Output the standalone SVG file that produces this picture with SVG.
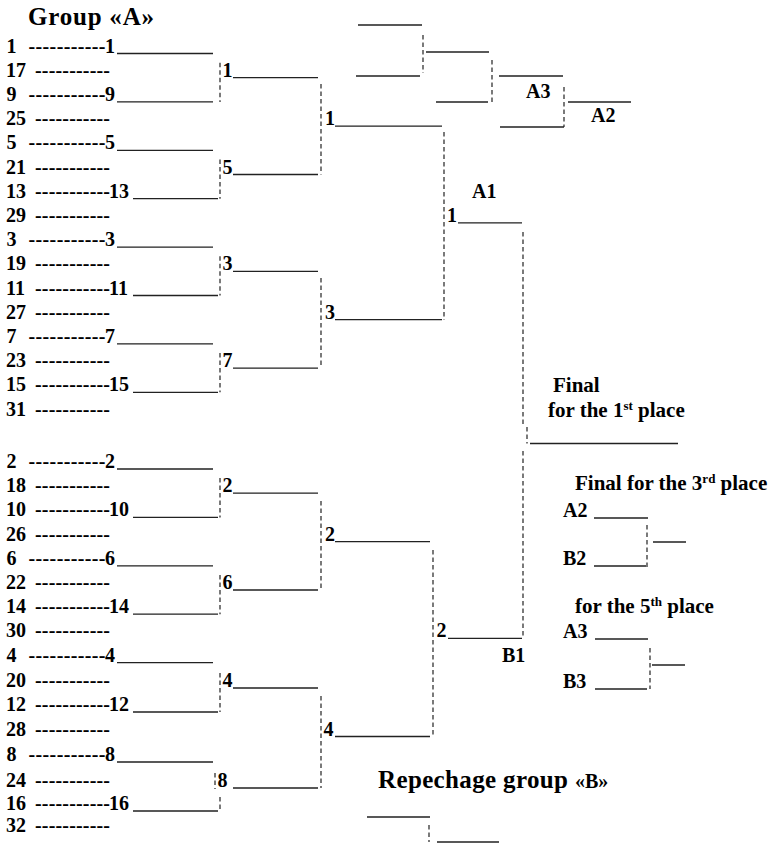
<svg xmlns="http://www.w3.org/2000/svg" width="773" height="845" viewBox="0 0 773 845">
<style>
text{font-family:"Liberation Serif","Times New Roman",serif;font-weight:bold;font-size:20px;fill:#000}
.t{font-size:25px}
.lb{font-size:21px}
.sup{font-size:13px}
.h{stroke:#222;stroke-width:1.3;fill:none}
.v{stroke:#222;stroke-width:1.2;stroke-dasharray:4.5 3;fill:none}
</style>
<defs>
<text id="d1" x="28.5" textLength="77" lengthAdjust="spacing">-----------</text>
<text id="d2" x="35" textLength="75" lengthAdjust="spacing">-----------</text>
</defs>
<rect width="773" height="845" fill="#fff"/>

<g id="titleA"><text class="t" x="28" y="25" textLength="126" lengthAdjust="spacing">Group «A»</text></g>
<g id="titleB"><text class="t" x="378" y="788" textLength="190" lengthAdjust="spacing">Repechage group</text><text x="575" y="788" font-size="18">«B»</text></g>

<g id="entries-top">
<g id="e1"><text x="6.5" y="52.5">1</text><use href="#d1" y="52.5"/><text x="105" y="52.5">1</text></g>
<g id="e17"><text x="6" y="76.7">17</text><use href="#d2" y="76.7"/></g>
<g id="e9"><text x="6.5" y="100.9">9</text><use href="#d1" y="100.9"/><text x="105" y="100.9">9</text></g>
<g id="e25"><text x="6" y="125.1">25</text><use href="#d2" y="125.1"/></g>
<g id="e5"><text x="6.5" y="149.3">5</text><use href="#d1" y="149.3"/><text x="105" y="149.3">5</text></g>
<g id="e21"><text x="6" y="173.5">21</text><use href="#d2" y="173.5"/></g>
<g id="e13"><text x="6" y="197.7">13</text><use href="#d2" y="197.7"/><text x="109" y="197.7">13</text></g>
<g id="e29"><text x="6" y="221.9">29</text><use href="#d2" y="221.9"/></g>
<g id="e3"><text x="6.5" y="246.1">3</text><use href="#d1" y="246.1"/><text x="105" y="246.1">3</text></g>
<g id="e19"><text x="6" y="270.3">19</text><use href="#d2" y="270.3"/></g>
<g id="e11"><text x="6" y="294.5">11</text><use href="#d2" y="294.5"/><text x="109" y="294.5">11</text></g>
<g id="e27"><text x="6" y="318.7">27</text><use href="#d2" y="318.7"/></g>
<g id="e7"><text x="6.5" y="342.9">7</text><use href="#d1" y="342.9"/><text x="105" y="342.9">7</text></g>
<g id="e23"><text x="6" y="367.1">23</text><use href="#d2" y="367.1"/></g>
<g id="e15"><text x="6" y="391.3">15</text><use href="#d2" y="391.3"/><text x="109" y="391.3">15</text></g>
<g id="e31"><text x="6" y="415.5">31</text><use href="#d2" y="415.5"/></g>
</g>

<g id="entries-bottom">
<g id="e2"><text x="6.5" y="468">2</text><use href="#d1" y="468"/><text x="105" y="468">2</text></g>
<g id="e18"><text x="6" y="492.2">18</text><use href="#d2" y="492.2"/></g>
<g id="e10"><text x="6" y="516.4">10</text><use href="#d2" y="516.4"/><text x="109" y="516.4">10</text></g>
<g id="e26"><text x="6" y="540.6">26</text><use href="#d2" y="540.6"/></g>
<g id="e6"><text x="6.5" y="564.8">6</text><use href="#d1" y="564.8"/><text x="105" y="564.8">6</text></g>
<g id="e22"><text x="6" y="589">22</text><use href="#d2" y="589"/></g>
<g id="e14"><text x="6" y="613.2">14</text><use href="#d2" y="613.2"/><text x="109" y="613.2">14</text></g>
<g id="e30"><text x="6" y="637.4">30</text><use href="#d2" y="637.4"/></g>
<g id="e4"><text x="6.5" y="661.6">4</text><use href="#d1" y="661.6"/><text x="105" y="661.6">4</text></g>
<g id="e20"><text x="6" y="687">20</text><use href="#d2" y="687"/></g>
<g id="e12"><text x="6" y="711">12</text><use href="#d2" y="711"/><text x="109" y="711">12</text></g>
<g id="e28"><text x="6" y="735.5">28</text><use href="#d2" y="735.5"/></g>
<g id="e8"><text x="6.5" y="761">8</text><use href="#d1" y="761"/><text x="105" y="761">8</text></g>
<g id="e24"><text x="6" y="787">24</text><use href="#d2" y="787"/></g>
<g id="e16"><text x="6" y="810">16</text><use href="#d2" y="810"/><text x="109" y="810">16</text></g>
<g id="e32"><text x="6" y="832">32</text><use href="#d2" y="832"/></g>
</g>

<g id="round2">
<text x="222.5" y="76.7">1</text>
<text x="222.5" y="173.5">5</text>
<text x="222.5" y="270.3">3</text>
<text x="222.5" y="367.1">7</text>
<text x="222.5" y="492.2">2</text>
<text x="222.5" y="589">6</text>
<text x="222.5" y="687">4</text>
<text x="217.5" y="787">8</text>
</g>
<g id="round3">
<text x="325" y="125.1">1</text>
<text x="325" y="318.7">3</text>
<text x="325" y="540.6">2</text>
<text x="323.5" y="735.5">4</text>
</g>
<g id="round4">
<text x="472" y="197.7">A1</text>
<text x="447" y="221.9">1</text>
<text x="436.5" y="637.4">2</text>
<text x="502" y="662">B1</text>
</g>
<g id="final1">
<text class="lb" x="553" y="392">Final</text>
<text class="lb" x="548" y="417">for the 1<tspan class="sup" dy="-7">st</tspan><tspan dy="7"> place</tspan></text>
</g>
<g id="final3">
<text class="lb" x="575" y="490">Final for the 3<tspan class="sup" dy="-7">rd</tspan><tspan dy="7"> place</tspan></text>
<text x="563" y="517">A2</text>
<text x="563" y="565">B2</text>
</g>
<g id="final5">
<text class="lb" x="575" y="613">for the 5<tspan class="sup" dy="-7">th</tspan><tspan dy="7"> place</tspan></text>
<text x="563" y="638">A3</text>
<text x="563" y="688">B3</text>
</g>
<g id="repechageA">
<text x="526" y="98">A3</text>
<text x="591" y="122">A2</text>
</g>

<g id="connectors">
<g class="h">
<path d="M117 53.5H213M117 101.9H213M117 150.3H213M133 198.7H218M117 247.1H213M133 295.5H218M117 343.9H213M133 392.3H218"/>
<path d="M117 469H213M133 517.4H218M117 565.8H213M133 614.2H218M117 662.6H213M133 712H218M117 762H213M133 811H218"/>
<path d="M233 77.7H318M233 174.5H318M233 271.3H318M233 368.1H318M233 493.2H318M233 590H318M233 688H318M233 788H318"/>
<path d="M335 126.1H442M335 319.7H442M335 541.6H430M335 736.5H430"/>
<path d="M458 222.9H522M448 638.4H522M530 443.5H678"/>
<path d="M594 518H648M653 542H686M594 566H646M595 639H648M652 665H685M595 689H647"/>
<path d="M358 25H422M426 52H489M356 76H420M499 76H563M436 102H488M568 102H631M500 127H564"/>
<path d="M367 817H430M437 842H499"/>
</g>
<g class="v">
<path d="M220 62.7V101.9M220 159.5V198.7M220 256.3V295.5M220 353.1V392.3"/>
<path d="M220 478V517.4M220 575V614.2M220 673V712M215 773V789M220 797V811"/>
<path d="M321 84V174.5M321 278V368.1M321 501V590M321 696V788"/>
<path d="M444 132V320M433 550V737"/>
<path d="M523 232V427M527 427V443.5M523 451V638.4"/>
<path d="M647 525V567M650 648V689"/>
<path d="M423 35V73M492 60V102M564 87V127"/>
<path d="M429 825V842"/>
</g>
</g>
</svg>
